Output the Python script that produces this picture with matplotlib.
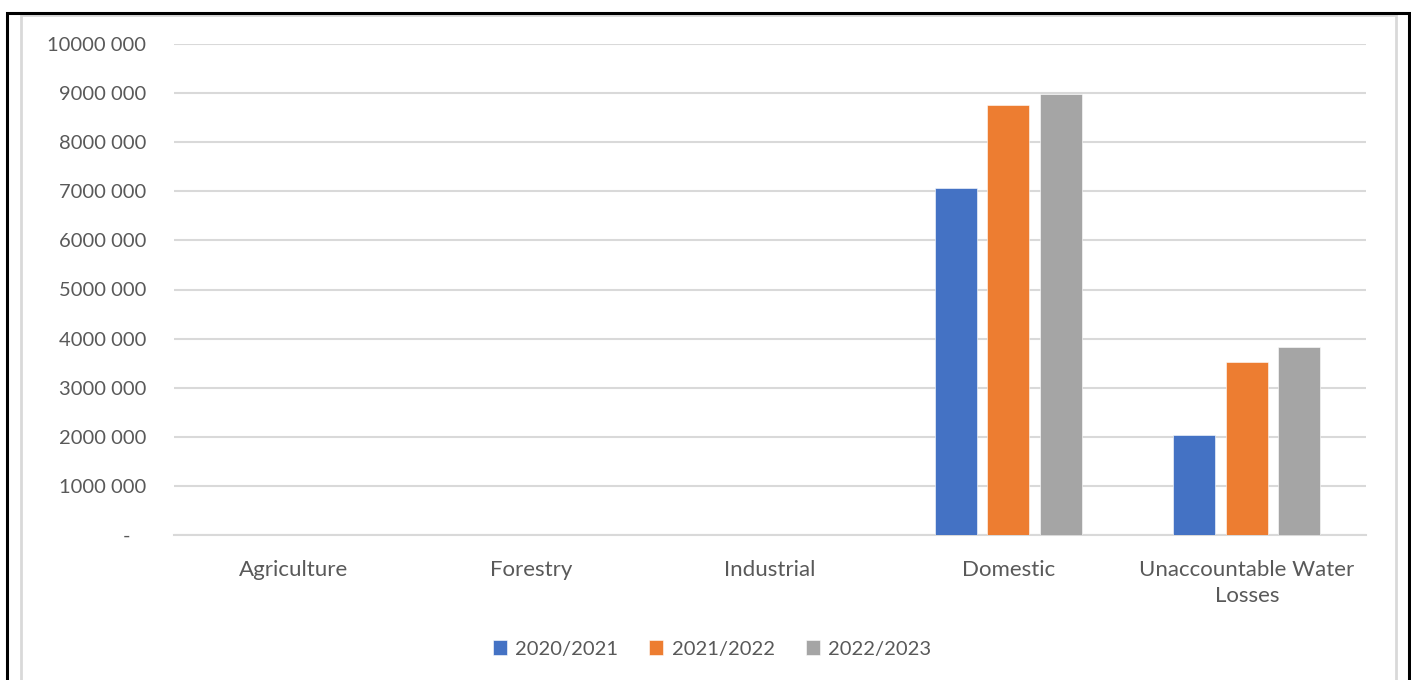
"""Water use by sector, three financial years, clustered bars."""

import numpy as np
import matplotlib.pyplot as plt
from matplotlib.patches import Rectangle
from matplotlib.ticker import FuncFormatter, MultipleLocator

sectors = ["Agriculture", "Forestry", "Industrial", "Domestic", "Unaccountable Water\nLosses"]
years = ["2020/2021", "2021/2022", "2022/2023"]
use_2020 = [0, 0, 0, 7_060_000, 2_040_000]
use_2021 = [0, 0, 0, 8_760_000, 3_530_000]
use_2022 = [0, 0, 0, 8_990_000, 3_830_000]
colors = ["#4472C4", "#ED7D31", "#A5A5A5"]

TEXT = "#595959"
GRID = "#D9D9D9"
plt.rcParams["font.family"] = ["Lato", "DejaVu Sans"]

W, H = 1411, 680
fig = plt.figure(figsize=(W / 100, H / 100), dpi=100)
ax = fig.add_axes([174 / W, (H - 535) / H, (1366 - 174) / W, (535 - 44) / H])

x = np.arange(len(sectors))
bar_w = 0.176
step = 0.22
for i, (vals, label) in enumerate(zip([use_2020, use_2021, use_2022], years)):
    ax.bar(x + (i - 1) * step, vals, width=bar_w, color=colors[i], label=label,
           edgecolor="white", linewidth=0.4, zorder=3)

ax.set_xlim(-0.5, len(sectors) - 0.5)
ax.set_ylim(0, 10_000_000)
ax.yaxis.set_major_locator(MultipleLocator(1_000_000))


def fmt(v, pos):
    v = int(round(v))
    if v == 0:
        return "-   "
    return f"{v // 1000} {v % 1000:03d}"


ax.yaxis.set_major_formatter(FuncFormatter(fmt))
ax.grid(axis="y", color=GRID, linewidth=1.5, zorder=0)
for s in ["top", "right", "left"]:
    ax.spines[s].set_visible(False)
ax.spines["bottom"].set_color(GRID)
ax.spines["bottom"].set_linewidth(1.5)
ax.tick_params(axis="both", length=0, colors=TEXT)
ax.tick_params(axis="y", pad=20, labelsize=14.5)
ax.tick_params(axis="x", pad=18, labelsize=16)
ax.set_xticks(x)
ax.set_xticklabels(sectors, linespacing=1.35)

leg = ax.legend(loc="center", bbox_to_anchor=(712 / W, (H - 649) / H),
                bbox_transform=fig.transFigure, ncol=3, frameon=False,
                fontsize=14.5, handlelength=0.7, handleheight=0.7,
                handletextpad=0.4, columnspacing=1.55)
for t in leg.get_texts():
    t.set_color(TEXT)

# chart area border and outer frame
fig.add_artist(Rectangle((20.5 / W, -0.1), (1396 - 20.5) / W, (H - 15) / H + 0.1,
                         transform=fig.transFigure, fill=False, edgecolor=GRID, linewidth=2))
fig.add_artist(Rectangle((7 / W, -0.1), (1409 - 7) / W, (H - 13) / H + 0.1,
                         transform=fig.transFigure, fill=False, edgecolor="black", linewidth=2.2))

fig.savefig("out.png", dpi=100)
